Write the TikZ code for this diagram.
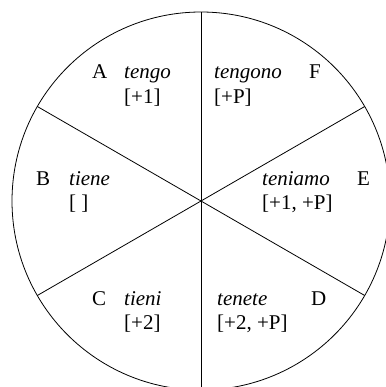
\documentclass[tikz,border=0pt]{standalone}
\usepackage{fontspec}
\setmainfont{Liberation Serif}
\begin{document}
\begin{tikzpicture}[x=1pt,y=-1pt,
  lbl/.style={anchor=base west,inner sep=0pt,font=\fontsize{21}{24}\selectfont},
  wrd/.style={lbl,font=\fontsize{21}{24}\selectfont\itshape},
  ln/.style={line width=0.8pt}]
\useasboundingbox (0,0) rectangle (385,387);
\coordinate (O) at (201,201);
\draw[ln] (O) circle (189);
\foreach \a in {30,90,150,210,270,330}{
  \draw[ln] (O) -- ++(\a:189);
}
% A
\node[lbl] (la) at (92,79) {A};
\node[wrd] (wa) at (124,79) {tengo};
\node[lbl] (fa) at (124,103.5) {[+1]};
% F
\node[wrd] (wf) at (214,79) {tengono};
\node[lbl] (lf) at (309,79) {F};
\node[lbl] (ff) at (214,103.5) {[+P]};
% B
\node[lbl] (lb) at (36,185.5) {B};
\node[wrd] (wb) at (69,185.5) {tiene};
\node[lbl] (fb) at (69,209.5) {[ ]};
% E
\node[wrd] (we) at (262,185.5) {teniamo};
\node[lbl] (le) at (357,185.5) {E};
\node[lbl] (fe) at (262,209.5) {[+1, +P]};
% C
\node[lbl] (lc) at (92,305) {C};
\node[wrd] (wc) at (124,305) {tieni};
\node[lbl] (fc) at (124,329) {[+2]};
% D
\node[wrd] (wd) at (217,305) {tenete};
\node[lbl] (ld) at (311,305) {D};
\node[lbl] (fd) at (217,329) {[+2, +P]};
\end{tikzpicture}
\end{document}
